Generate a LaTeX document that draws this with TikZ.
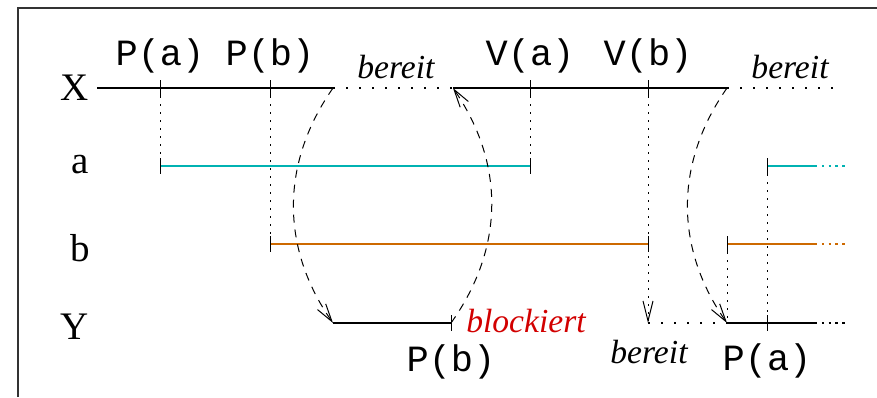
\documentclass[tikz,border=0pt]{standalone}
\usepackage{fontspec}
\setmainfont{Liberation Serif}
\setmonofont{Liberation Mono}
\usepackage{tikz}
\usetikzlibrary{arrows.meta,positioning}

\definecolor{semA}{RGB}{0,178,178}
\definecolor{semB}{RGB}{205,105,0}
\definecolor{blockred}{RGB}{210,0,0}

\begin{document}
\begin{tikzpicture}[
  x=0.5pt,y=-0.5pt,
  lbl/.style={font=\fontsize{19.5}{21}\selectfont,inner sep=0pt},
  op/.style={font=\ttfamily\fontsize{18.5}{20}\selectfont,inner sep=0pt,anchor=base},
  st/.style={font=\itshape\fontsize{16.8}{18}\selectfont,inner sep=0pt,anchor=base},
  run/.style={line width=1.3pt},
  idle/.style={line width=1.1pt,dash pattern=on 1.1pt off 5.4pt},
  tail/.style={line width=1.1pt,dash pattern=on 1.2pt off 2.2pt},
  tick/.style={line width=0.5pt},
  guide/.style={line width=0.5pt,dash pattern=on 1pt off 3pt},
  wake/.style={line width=0.5pt,dash pattern=on 4pt off 3.5pt,-{Straight Barb[length=9pt,width=5pt]}}
]
\useasboundingbox (0,0) rectangle (877,397);
\draw[black!80,line width=0.7pt] (18,397) -- (18,8) -- (877,8);

% time points on the four rows
\coordinate (x0) at (97,88);
\coordinate (pa) at (160,88);
\coordinate (pb) at (270,88);
\coordinate (xr) at (333,88);
\coordinate (xc) at (453,88);
\coordinate (va) at (530,88);
\coordinate (vb) at (648,88);
\coordinate (xe) at (727,88);
\coordinate (xend) at (835,88);

\coordinate (a1) at (160,166);
\coordinate (a2) at (530,166);
\coordinate (a3) at (767,166);
\coordinate (a4) at (815,166);
\coordinate (a5) at (845,166);

\coordinate (b1) at (270,244);
\coordinate (b2) at (648,244);
\coordinate (b3) at (727,244);
\coordinate (b4) at (815,244);
\coordinate (b5) at (845,244);

\coordinate (y1) at (333,323);
\coordinate (y2) at (451,323);
\coordinate (y3) at (648,323);
\coordinate (y4) at (727,323);
\coordinate (y5) at (767,323);
\coordinate (y6) at (815,323);
\coordinate (y7) at (845,323);

% row names
\node[lbl,left=4pt of x0] (lX) {X};
\node[lbl] (la) at (80,165) {a};
\node[lbl] (lb) at (80,248) {b};
\node[lbl] (lY) at (75,327) {Y};

% rows
\draw[run] (x0) -- (xr);
\draw[idle] (xr) -- (xc);
\draw[run] (xc) -- (xe);
\draw[idle] (xe) -- (xend);

\draw[run,semA] (a1) -- (a2);
\draw[run,semA] (a3) -- (a4);
\draw[tail,semA] (a4) -- (a5);

\draw[run,semB] (b1) -- (b2);
\draw[run,semB] (b3) -- (b4);
\draw[tail,semB] (b4) -- (b5);

\draw[run] (y1) -- (y2);
\draw[idle] (y3) -- (y4);
\draw[run] (y4) -- (y6);
\draw[tail] (y6) -- (y7);

% ticks
\foreach \c in {pa,pb,va,vb,a1,a2,a3,b1,b2,b3,y2,y5}
  \draw[tick] ([yshift=4pt]\c) -- ([yshift=-4pt]\c);

% guides
\draw[guide] (pa) -- (a1);
\draw[guide] (pb) -- (b1);
\draw[guide] (va) -- (a2);
\draw[guide,-{Straight Barb[length=10pt,width=5pt]}] (vb) -- (y3);
\draw[guide] (b3) -- (y4);
\draw[guide] (a3) -- (y5);

% hand-overs
\draw[wake] (xr) to[bend right=35] (y1);
\draw[wake] (y2) to[bend right=35] (xc);
\draw[wake] (xe) to[bend right=35] (y4);

% operations
\node[op] (tpa) at (160,65) {P(a)};
\node[op] (tpb) at (270,65) {P(b)};
\node[op] (tva) at (530,65) {V(a)};
\node[op] (tvb) at (648,65) {V(b)};
\node[st] (s1) at (396,78) {bereit};
\node[st] (s2) at (790,78) {bereit};

\node[op] (bpb) at (451,371) {P(b)};
\node[st,text=blockred] (blk) at (526,332) {blockiert};
\node[st] (s3) at (649,363) {bereit};
\node[op] (bpa) at (767,370) {P(a)};
\end{tikzpicture}
\end{document}
